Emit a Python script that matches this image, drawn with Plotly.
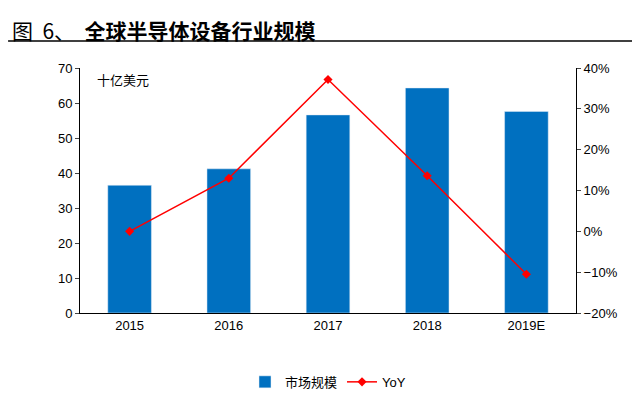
import plotly.graph_objects as go

years = ["2015", "2016", "2017", "2018", "2019E"]
market = [36.5, 41.2, 56.6, 64.3, 57.6]
yoy = [0.0, 13.0, 37.2, 13.6, -10.5]

fig = go.Figure()
fig.add_trace(go.Bar(x=years, y=market, name="市场规模", marker_color="#0070C0", width=0.44))
fig.add_trace(go.Scatter(x=years, y=yoy, name="YoY", yaxis="y2", mode="lines+markers",
                         line=dict(color="#FF0000", width=1.5),
                         marker=dict(symbol="diamond", size=7, color="#FF0000")))

font = "Liberation Sans, Noto Sans CJK SC"
fig.update_layout(
    width=640, height=403, plot_bgcolor="white", paper_bgcolor="white",
    margin=dict(l=72, r=72, t=60, b=98),
    font=dict(family=font, size=13, color="black"),
    showlegend=True,
    legend=dict(orientation="h", x=0.5, xanchor="center", y=-0.22, font=dict(size=13)),
    xaxis=dict(showline=True, linecolor="black", ticks="", showgrid=False),
    yaxis=dict(range=[0, 70], dtick=10, showline=True, linecolor="black", ticks="outside",
               ticklen=4, showgrid=False, zeroline=False),
    yaxis2=dict(range=[-20, 40], dtick=10, overlaying="y", side="right", ticksuffix="%",
                showline=True, linecolor="black", ticks="outside", ticklen=4,
                showgrid=False, zeroline=False),
    annotations=[
        dict(text="十亿美元", x=0.03, y=1.0, xref="paper", yref="paper", xanchor="left",
             yanchor="top", showarrow=False, font=dict(size=13, family="Noto Sans CJK SC")),
        dict(text="图  6、  <b>全球半导体设备行业规模</b>", x=0.0, y=1.0, xref="paper", yref="paper",
             xanchor="left", yanchor="top", xshift=-70, yshift=55, showarrow=False,
             font=dict(size=21, family="Noto Sans CJK SC")),
    ],
    shapes=[dict(type="line", xref="paper", yref="paper", x0=-0.145, x1=1.145,
                 y0=1.11, y1=1.11, line=dict(color="black", width=1.5))],
)
fig.write_html("out.html")
